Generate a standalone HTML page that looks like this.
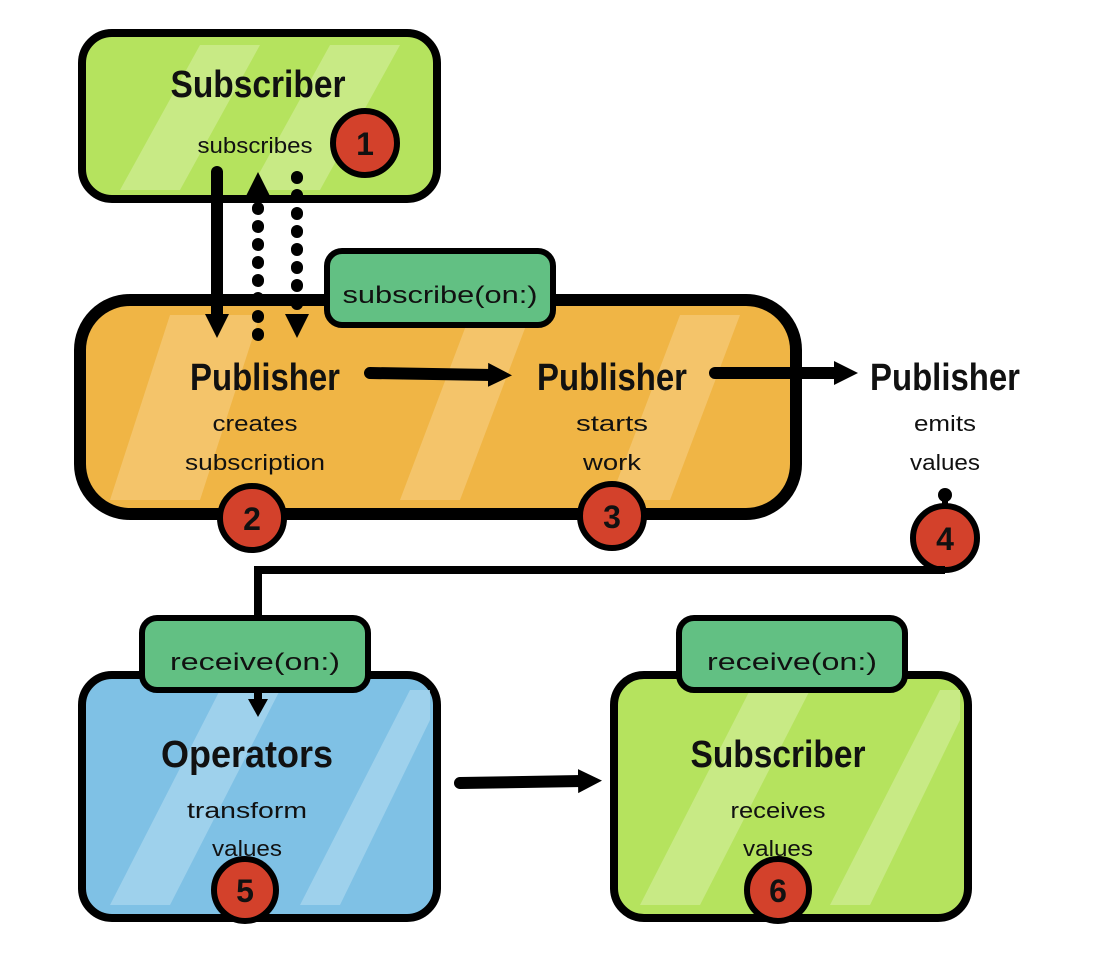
<!DOCTYPE html><html><head><style>body{margin:0;background:#fff}svg{display:block}text{font-family:"Liberation Sans Narrow","Liberation Sans",sans-serif;text-anchor:middle;fill:#111}</style></head><body>
<svg width="1096" height="980" viewBox="0 0 1096 980">
<defs>
<marker id="ah" markerWidth="30" markerHeight="30" refX="4" refY="15" orient="auto" markerUnits="userSpaceOnUse"><path d="M0,3 L24,15 L0,27Z" fill="#000"/></marker>
<marker id="as" markerWidth="24" markerHeight="24" refX="3" refY="12" orient="auto" markerUnits="userSpaceOnUse"><path d="M0,2 L18,12 L0,22Z" fill="#000"/></marker>
</defs>
<!-- top subscriber -->
<rect x="82" y="33" width="355" height="166" rx="30" fill="#b5e35e" stroke="#000" stroke-width="8"/>
<path d="M120 190 L200 45 L260 45 L180 190Z M250 190 L330 45 L400 45 L320 190Z" fill="#cdeb8f" opacity=".8"/>
<text x="258" y="97" font-size="38" font-weight="bold" textLength="175" lengthAdjust="spacingAndGlyphs">Subscriber</text>
<text x="255" y="153" font-size="22" textLength="115" lengthAdjust="spacingAndGlyphs">subscribes</text>
<circle cx="365" cy="143" r="32" fill="#d3412b" stroke="#000" stroke-width="6"/><text x="365" y="155" font-size="32" font-weight="bold">1</text>
<!-- orange -->
<rect x="80" y="300" width="716" height="214" rx="50" fill="#f0b545" stroke="#000" stroke-width="12"/>
<path d="M110 500 L170 315 L260 315 L200 500Z M400 500 L470 315 L530 315 L460 500Z M610 500 L680 315 L740 315 L670 500Z" fill="#f5cb7a" opacity=".7"/>
<rect x="327" y="251" width="226" height="74" rx="15" fill="#62c083" stroke="#000" stroke-width="6"/>
<text x="440" y="303" font-size="24" textLength="195" lengthAdjust="spacingAndGlyphs">subscribe(on:)</text>
<text x="265" y="390" font-size="38" font-weight="bold" textLength="150" lengthAdjust="spacingAndGlyphs">Publisher</text>
<text x="255" y="431" font-size="22" textLength="85" lengthAdjust="spacingAndGlyphs">creates</text><text x="255" y="470" font-size="22" textLength="140" lengthAdjust="spacingAndGlyphs">subscription</text>
<text x="612" y="390" font-size="38" font-weight="bold" textLength="150" lengthAdjust="spacingAndGlyphs">Publisher</text>
<text x="612" y="431" font-size="22" textLength="72" lengthAdjust="spacingAndGlyphs">starts</text><text x="612" y="470" font-size="22" textLength="58" lengthAdjust="spacingAndGlyphs">work</text>
<text x="945" y="390" font-size="38" font-weight="bold" textLength="150" lengthAdjust="spacingAndGlyphs">Publisher</text>
<text x="945" y="431" font-size="22" textLength="62" lengthAdjust="spacingAndGlyphs">emits</text><text x="945" y="470" font-size="22" textLength="70" lengthAdjust="spacingAndGlyphs">values</text>
<circle cx="252" cy="518" r="32" fill="#d3412b" stroke="#000" stroke-width="6"/><text x="252" y="530" font-size="32" font-weight="bold">2</text>
<circle cx="612" cy="516" r="32" fill="#d3412b" stroke="#000" stroke-width="6"/><text x="612" y="528" font-size="32" font-weight="bold">3</text>
<circle cx="945" cy="538" r="32" fill="#d3412b" stroke="#000" stroke-width="6"/><text x="945" y="550" font-size="32" font-weight="bold">4</text>
<circle cx="945" cy="495" r="7" fill="#000"/><line x1="945" y1="495" x2="945" y2="506" stroke="#000" stroke-width="6"/>
<!-- arrows -->
<line x1="217" y1="172" x2="217" y2="318" stroke="#000" stroke-width="12" stroke-linecap="round" marker-end="url(#ah)"/>
<line x1="258" y1="335" x2="258" y2="192" stroke="#000" stroke-width="12" stroke-dasharray="1 17" stroke-linecap="round" marker-end="url(#ah)"/>
<line x1="297" y1="177" x2="297" y2="318" stroke="#000" stroke-width="12" stroke-dasharray="1 17" stroke-linecap="round" marker-end="url(#ah)"/>
<line x1="370" y1="373" x2="492" y2="375" stroke="#000" stroke-width="12" stroke-linecap="round" marker-end="url(#ah)"/>
<line x1="715" y1="373" x2="838" y2="373" stroke="#000" stroke-width="12" stroke-linecap="round" marker-end="url(#ah)"/>
<path d="M945 570 L258 570 L258 700" fill="none" stroke="#000" stroke-width="8" marker-end="url(#as)"/>
<!-- blue -->
<rect x="82" y="675" width="355" height="243" rx="30" fill="#7fc1e5" stroke="#000" stroke-width="8"/>
<path d="M110 905 L220 690 L280 690 L170 905Z M300 905 L410 690 L430 690 L430 720 L340 905Z" fill="#a6d4ee" opacity=".8"/>
<rect x="142" y="618" width="226" height="72" rx="15" fill="#62c083" stroke="#000" stroke-width="6"/>
<text x="255" y="670" font-size="24" textLength="170" lengthAdjust="spacingAndGlyphs">receive(on:)</text>
<line x1="258" y1="690" x2="258" y2="702" stroke="#000" stroke-width="8" marker-end="url(#as)"/>
<text x="247" y="767" font-size="38" font-weight="bold" textLength="172" lengthAdjust="spacingAndGlyphs">Operators</text>
<text x="247" y="818" font-size="22" textLength="120" lengthAdjust="spacingAndGlyphs">transform</text><text x="247" y="856" font-size="22" textLength="70" lengthAdjust="spacingAndGlyphs">values</text>
<circle cx="245" cy="890" r="31" fill="#d3412b" stroke="#000" stroke-width="6"/><text x="245" y="902" font-size="32" font-weight="bold">5</text>
<line x1="460" y1="783" x2="582" y2="781" stroke="#000" stroke-width="12" stroke-linecap="round" marker-end="url(#ah)"/>
<!-- green bottom -->
<rect x="614" y="675" width="354" height="243" rx="30" fill="#b5e35e" stroke="#000" stroke-width="8"/>
<path d="M640 905 L750 690 L810 690 L700 905Z M830 905 L940 690 L960 690 L960 720 L870 905Z" fill="#cdeb8f" opacity=".8"/>
<rect x="679" y="618" width="226" height="72" rx="15" fill="#62c083" stroke="#000" stroke-width="6"/>
<text x="792" y="670" font-size="24" textLength="170" lengthAdjust="spacingAndGlyphs">receive(on:)</text>
<text x="778" y="767" font-size="38" font-weight="bold" textLength="175" lengthAdjust="spacingAndGlyphs">Subscriber</text>
<text x="778" y="818" font-size="22" textLength="95" lengthAdjust="spacingAndGlyphs">receives</text><text x="778" y="856" font-size="22" textLength="70" lengthAdjust="spacingAndGlyphs">values</text>
<circle cx="778" cy="890" r="31" fill="#d3412b" stroke="#000" stroke-width="6"/><text x="778" y="902" font-size="32" font-weight="bold">6</text>
</svg></body></html>
